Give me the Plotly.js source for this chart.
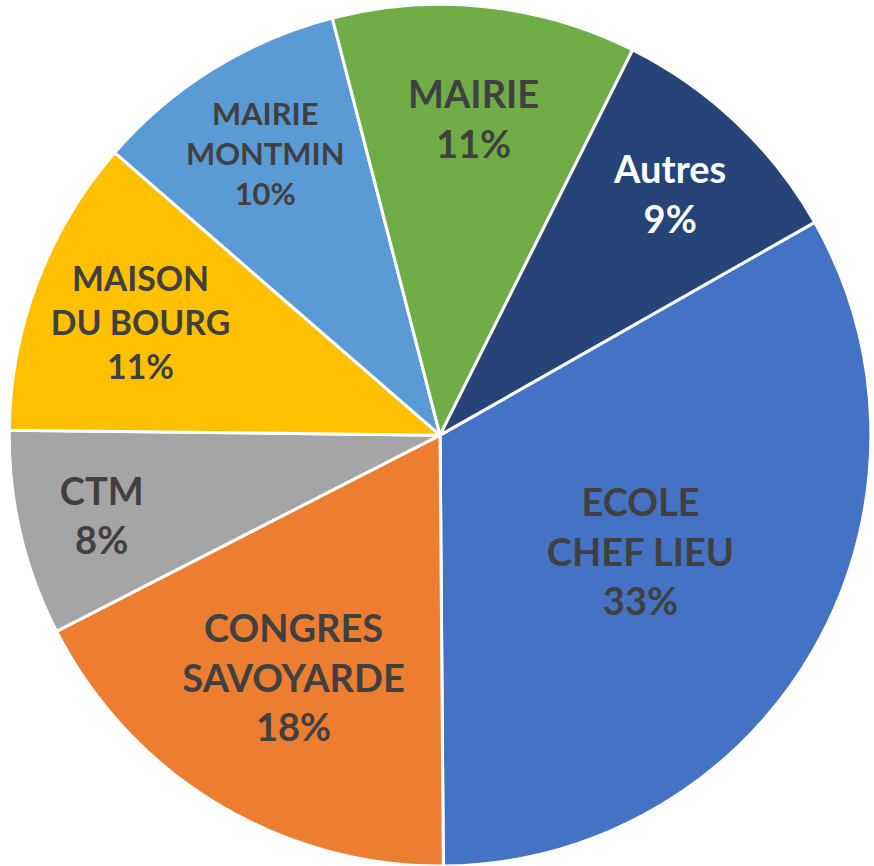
<!DOCTYPE html>
<html>
<head>
<meta charset="utf-8">
<script src="https://cdn.plot.ly/plotly-3.0.1.min.js"></script>
<style>html,body{margin:0;padding:0;background:#fff;}#chart{width:874px;height:866px;}</style>
</head>
<body>
<div id="chart"></div>
<script>
const labels = ["ECOLE<br>CHEF LIEU", "CONGRES<br>SAVOYARDE", "CTM", "MAISON<br>DU BOURG", "MAIRIE<br>MONTMIN", "MAIRIE", "Autres"];
const values = [33.1, 17.6, 7.7, 11.2, 9.6, 11.4, 9.4];
const colors = ["#4472C4", "#ED7D31", "#A5A5A5", "#FFC000", "#5B9BD5", "#70AD47", "#264478"];
const textColors = ["#404040", "#404040", "#404040", "#404040", "#404040", "#404040", "#FFFFFF"];

Plotly.newPlot('chart', [{
  type: 'pie',
  labels: labels,
  values: values,
  sort: false,
  direction: 'clockwise',
  rotation: 60.4,
  marker: {colors: colors, line: {color: '#FFFFFF', width: 3}},
  texttemplate: '%{label}<br>%{percent:.0%}',
  textposition: 'inside',
  insidetextorientation: 'horizontal',
  insidetextfont: {family: 'Lato, sans-serif', size: 38, color: textColors, weight: 'bold'},
  hoverinfo: 'none',
  domain: {x: [0.007, 1], y: [0, 0.995]}
}], {
  width: 874, height: 866,
  margin: {l: 0, r: 0, t: 0, b: 0},
  showlegend: false,
  paper_bgcolor: '#FFFFFF'
}, {staticPlot: true});
</script>
</body>
</html>
